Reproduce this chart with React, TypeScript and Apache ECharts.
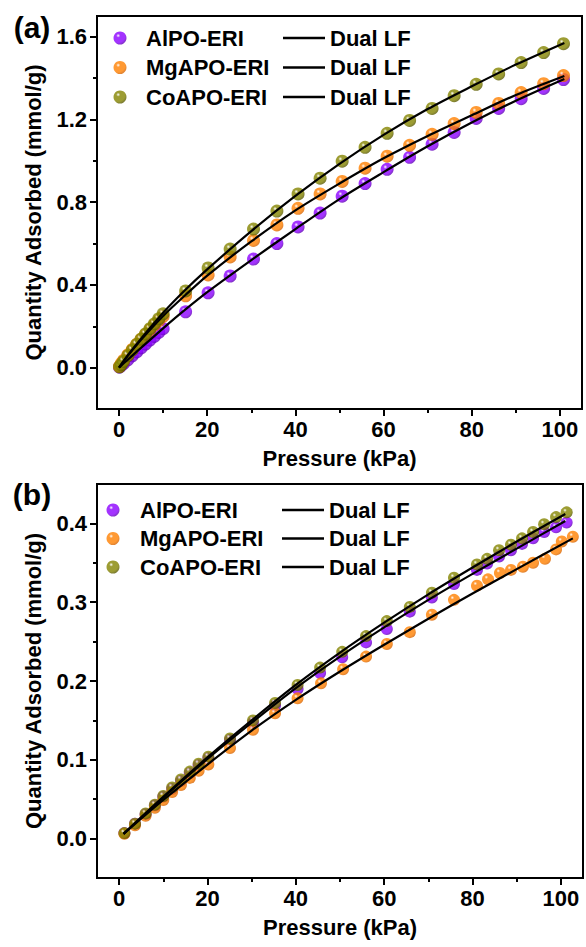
import React, { useEffect, useRef } from "react";
import * as echarts from "echarts";

// ---------- Panel (a) data ----------
const pressureA = [0.1, 0.5, 1, 2, 3, 4, 5, 6, 7, 8, 9, 10, 15.1, 20.2, 25.2, 30.5, 35.8, 40.6, 45.6, 50.6, 55.8, 60.8, 65.9, 71.0, 76.0, 81.0, 86.1, 91.2, 96.3, 100.8];
const alpoA = [0.002, 0.01, 0.019, 0.038, 0.057, 0.076, 0.095, 0.114, 0.133, 0.151, 0.17, 0.188, 0.27, 0.362, 0.443, 0.525, 0.6, 0.68, 0.747, 0.829, 0.89, 0.959, 1.017, 1.08, 1.137, 1.205, 1.253, 1.3, 1.35, 1.393];
const mgapoA = [0.005, 0.02, 0.035, 0.062, 0.088, 0.113, 0.137, 0.16, 0.183, 0.205, 0.227, 0.248, 0.347, 0.448, 0.535, 0.615, 0.69, 0.77, 0.84, 0.9, 0.964, 1.022, 1.075, 1.128, 1.18, 1.234, 1.277, 1.33, 1.373, 1.412];
const coapoA = [0.004, 0.015, 0.03, 0.058, 0.085, 0.112, 0.138, 0.163, 0.188, 0.212, 0.236, 0.26, 0.371, 0.482, 0.573, 0.67, 0.757, 0.84, 0.916, 0.998, 1.065, 1.133, 1.195, 1.253, 1.315, 1.37, 1.42, 1.475, 1.523, 1.566];

const fitPressureA = [0, 2, 5, 10, 15, 20, 30, 40, 50, 60, 70, 80, 90, 101];
const alpoFitA = [0, 0.039, 0.096, 0.19, 0.28, 0.365, 0.52, 0.67, 0.815, 0.945, 1.07, 1.185, 1.29, 1.395];
const mgapoFitA = [0, 0.058, 0.135, 0.25, 0.35, 0.445, 0.61, 0.76, 0.89, 1.012, 1.12, 1.22, 1.318, 1.41];
const coapoFitA = [0, 0.06, 0.14, 0.265, 0.375, 0.475, 0.66, 0.83, 0.985, 1.125, 1.25, 1.36, 1.465, 1.57];

// ---------- Panel (b) data ----------
const pressureB = [1.2, 3.6, 6, 8.1, 10, 12, 14, 16, 18, 20.2, 25.1, 30.3, 35.3, 40.4, 45.5, 50.5, 55.9, 60.6, 65.8, 70.8, 75.8, 81, 83.3, 86, 88.7, 91.2, 93.7, 96.2, 98.9, 101.3];
const alpoB = [0.007, 0.019, 0.031, 0.042, 0.053, 0.063, 0.073, 0.083, 0.093, 0.102, 0.125, 0.147, 0.169, 0.19, 0.21, 0.23, 0.249, 0.266, 0.288, 0.306, 0.323, 0.341, 0.349, 0.358, 0.366, 0.374, 0.381, 0.389, 0.395, 0.401];
const coapoB = [0.007, 0.019, 0.032, 0.043, 0.054, 0.065, 0.075, 0.085, 0.095, 0.104, 0.127, 0.15, 0.172, 0.195, 0.217, 0.237, 0.257, 0.276, 0.294, 0.312, 0.331, 0.348, 0.355, 0.366, 0.373, 0.381, 0.389, 0.399, 0.408, 0.414];
const pressureMgB = [1.2, 3.6, 6, 8.1, 10, 12, 14, 16, 18, 20.2, 25.1, 30.3, 35.3, 40.4, 45.7, 50.7, 55.9, 60.6, 65.8, 70.8, 75.8, 81, 83.5, 86.2, 88.7, 91.4, 93.7, 96.4, 98.9, 100.2, 102.7];
const mgapoB = [0.006, 0.017, 0.029, 0.039, 0.049, 0.059, 0.068, 0.077, 0.086, 0.094, 0.115, 0.138, 0.159, 0.178, 0.197, 0.215, 0.231, 0.247, 0.262, 0.284, 0.303, 0.321, 0.329, 0.337, 0.341, 0.345, 0.35, 0.355, 0.367, 0.377, 0.383];

const fitPressureB = [1, 10, 20, 30, 40, 50, 60, 70, 80, 90, 101];
const alpoFitB = [0.006, 0.052, 0.101, 0.147, 0.191, 0.231, 0.268, 0.303, 0.336, 0.368, 0.403];
const coapoFitB = [0.006, 0.053, 0.103, 0.15, 0.195, 0.236, 0.274, 0.31, 0.344, 0.377, 0.412];
const fitPressureMgB = [1, 10, 20, 30, 40, 50, 60, 70, 80, 90, 102.7];
const mgapoFitB = [0.006, 0.049, 0.094, 0.137, 0.176, 0.212, 0.246, 0.279, 0.311, 0.342, 0.381];

// ---------- Ticks ----------
const xMajor = [0, 20, 40, 60, 80, 100];
const xMinor = [10, 30, 50, 70, 90];
const yMajorA = [0, 0.4, 0.8, 1.2, 1.6];
const yMinorA = [0.2, 0.6, 1.0, 1.4];
const yMajorB = [0, 0.1, 0.2, 0.3, 0.4];
const yMinorB = [0.05, 0.15, 0.25, 0.35];

const NAMES = ["AlPO-ERI", "MgAPO-ERI", "CoAPO-ERI"];
const FIT_NAMES = ["AlPO-ERI Dual LF", "MgAPO-ERI Dual LF", "CoAPO-ERI Dual LF"];

const FONT = "'Liberation Sans', Arial, sans-serif";
const FS = 22;

const zip = (xs: number[], ys: number[]) => xs.map((x, i) => [x, ys[i]]);

const ball = (main: string, dark: string) =>
  new echarts.graphic.RadialGradient(0.36, 0.32, 0.7, [
    { offset: 0, color: "#ffffff" },
    { offset: 0.22, color: main },
    { offset: 0.75, color: main },
    { offset: 1, color: dark },
  ]);

const COLORS = [
  { main: "#8c00ff", dark: "#6200b8" },
  { main: "#ff8000", dark: "#d86400" },
  { main: "#848400", dark: "#5a5a00" },
];

export default function App() {
  const ref = useRef<HTMLDivElement>(null);

  useEffect(() => {
    if (!ref.current) return;
    const chart = echarts.init(ref.current, null, { renderer: "svg" });

    const labelStyle = { fontSize: FS, fontWeight: "bold" as const, color: "#000", fontFamily: FONT };

    const majorX = (gridIndex: number) => ({
      type: "value",
      gridIndex,
      min: -5,
      max: 105,
      position: "bottom",
      name: "Pressure (kPa)",
      nameLocation: "middle",
      nameGap: 38,
      nameTextStyle: { fontSize: FS, fontWeight: "bold", color: "#000", fontFamily: FONT },
      axisLine: { show: true, onZero: false, lineStyle: { color: "#000", width: 2 } },
      axisTick: { show: true, length: 7, inside: false, lineStyle: { color: "#000", width: 2 }, customValues: xMajor },
      axisLabel: { ...labelStyle, margin: 9, customValues: xMajor },
      splitLine: { show: false },
    });
    const minorX = (gridIndex: number) => ({
      type: "value",
      gridIndex,
      min: -5,
      max: 105,
      position: "bottom",
      axisLine: { show: false, onZero: false },
      axisTick: { show: true, length: 4, lineStyle: { color: "#000", width: 2 }, customValues: xMinor },
      axisLabel: { show: false },
      splitLine: { show: false },
    });
    const majorY = (gridIndex: number, min: number, max: number, ticks: number[], fmt: (v: number) => string) => ({
      type: "value",
      gridIndex,
      min,
      max,
      position: "left",
      name: "Quantity Adsorbed (mmol/g)",
      nameLocation: "middle",
      nameGap: 53,
      nameTextStyle: { fontSize: FS, fontWeight: "bold", color: "#000", fontFamily: FONT },
      axisLine: { show: true, onZero: false, lineStyle: { color: "#000", width: 2 } },
      axisTick: { show: true, length: 7, lineStyle: { color: "#000", width: 2 }, customValues: ticks },
      axisLabel: { ...labelStyle, margin: 10, customValues: ticks, formatter: fmt },
      splitLine: { show: false },
    });
    const minorY = (gridIndex: number, min: number, max: number, ticks: number[]) => ({
      type: "value",
      gridIndex,
      min,
      max,
      position: "left",
      axisLine: { show: false, onZero: false },
      axisTick: { show: true, length: 4, lineStyle: { color: "#000", width: 2 }, customValues: ticks },
      axisLabel: { show: false },
      splitLine: { show: false },
    });

    const scatter = (name: string, xs: number[], ys: number[], ci: number, xi: number, yi: number, size: number, z: number) => ({
      type: "scatter",
      name,
      xAxisIndex: xi,
      yAxisIndex: yi,
      data: zip(xs, ys),
      symbol: "circle",
      symbolSize: size,
      itemStyle: { color: ball(COLORS[ci].main, COLORS[ci].dark) },
      z,
    });
    const fit = (name: string, xs: number[], ys: number[], xi: number, yi: number) => ({
      type: "line",
      name,
      xAxisIndex: xi,
      yAxisIndex: yi,
      data: zip(xs, ys),
      smooth: 0.3,
      symbol: "none",
      showSymbol: false,
      lineStyle: { color: "#000", width: 2.2 },
      itemStyle: { color: "#000" },
      z: 10,
    });

    const markerLegend = (left: number, top: number, lh: number, pad: number) => ({
      orient: "vertical",
      left,
      top,
      padding: 0,
      itemGap: 0,
      itemWidth: 13,
      itemHeight: 13,
      data: NAMES,
      selectedMode: false,
      textStyle: { fontSize: FS, fontWeight: "bold", color: "#000", fontFamily: FONT, lineHeight: lh, padding: [0, 0, 0, pad] },
    });
    const fitLegend = (left: number, top: number, lh: number) => ({
      orient: "vertical",
      left,
      top,
      padding: 0,
      itemGap: 0,
      itemWidth: 42,
      itemHeight: 2.4,
      icon: "rect",
      data: FIT_NAMES,
      selectedMode: false,
      formatter: () => "Dual LF",
      textStyle: { fontSize: FS, fontWeight: "bold", color: "#000", fontFamily: FONT, lineHeight: lh },
    });

    chart.setOption({
      animation: false,
      backgroundColor: "#fff",
      textStyle: { fontFamily: FONT },
      grid: [
        { left: 97, top: 16, width: 485, height: 393, show: true, borderColor: "#000", borderWidth: 2, backgroundColor: "transparent" },
        { left: 97, top: 484, width: 486, height: 394, show: true, borderColor: "#000", borderWidth: 2, backgroundColor: "transparent" },
      ],
      xAxis: [majorX(0), minorX(0), majorX(1), minorX(1)],
      yAxis: [
        majorY(0, -0.2, 1.7, yMajorA, (v: number) => v.toFixed(1)),
        minorY(0, -0.2, 1.7, yMinorA),
        majorY(1, -0.05, 0.45, yMajorB, (v: number) => v.toFixed(1)),
        minorY(1, -0.05, 0.45, yMinorB),
      ],
      legend: [
        markerLegend(113.5, 23.25, 29.5, 14.5),
        fitLegend(283, 23.25, 29.5),
        markerLegend(106.5, 495.75, 28.5, 15.5),
        fitLegend(282, 495.75, 28.5),
      ],
      graphic: [
        { type: "text", x: 32, y: 27, style: { text: "(a)", fontSize: 30, fontWeight: "bold", fontFamily: FONT, fill: "#000", align: "center", verticalAlign: "middle" } },
        { type: "text", x: 32, y: 494, style: { text: "(b)", fontSize: 30, fontWeight: "bold", fontFamily: FONT, fill: "#000", align: "center", verticalAlign: "middle" } },
      ],
      series: [
        scatter(NAMES[0], pressureA, alpoA, 0, 0, 0, 13, 2),
        scatter(NAMES[1], pressureA, mgapoA, 1, 0, 0, 13, 3),
        scatter(NAMES[2], pressureA, coapoA, 2, 0, 0, 13, 4),
        fit(FIT_NAMES[0], fitPressureA, alpoFitA, 0, 0),
        fit(FIT_NAMES[1], fitPressureA, mgapoFitA, 0, 0),
        fit(FIT_NAMES[2], fitPressureA, coapoFitA, 0, 0),
        scatter(NAMES[0], pressureB, alpoB, 0, 2, 2, 12, 2),
        scatter(NAMES[1], pressureMgB, mgapoB, 1, 2, 2, 12, 3),
        scatter(NAMES[2], pressureB, coapoB, 2, 2, 2, 12, 4),
        fit(FIT_NAMES[0], fitPressureB, alpoFitB, 2, 2),
        fit(FIT_NAMES[1], fitPressureMgB, mgapoFitB, 2, 2),
        fit(FIT_NAMES[2], fitPressureB, coapoFitB, 2, 2),
      ],
    });

    return () => chart.dispose();
  }, []);

  return <div ref={ref} style={{ position: "absolute", left: 0, top: 0, width: 586, height: 947 }} />;
}
